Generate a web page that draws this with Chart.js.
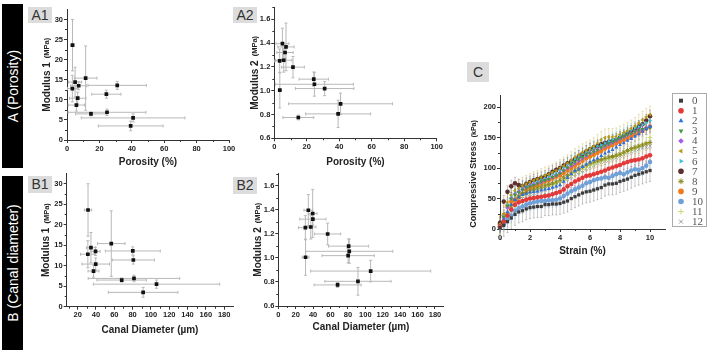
<!DOCTYPE html>
<html>
<head>
<meta charset="utf-8">
<script src="https://cdn.jsdelivr.net/npm/chart.js@4.4.0/dist/chart.umd.min.js"></script>
<style>
  body { margin: 0; width: 708px; height: 355px; background: #fff; position: relative; overflow: hidden; font-family: "Liberation Sans", Arial, sans-serif; }
  .bar { position: absolute; left: 2px; width: 21px; background: #000; }
  .bar span { position: absolute; left: 50%; top: 50%; transform: translate(-50%, -50%) rotate(-90deg); color: #fff; font-size: 14px; white-space: nowrap; }
  .tag { position: absolute; z-index: 2; background: #dcdcdc; color: #333; font-size: 14px; line-height: 16px; text-align: center; }
  canvas { position: absolute; }
</style>
</head>
<body>
<div class="bar" style="top:4px;height:164px"><span>A (Porosity)</span></div>
<div class="bar" style="top:176px;height:174px"><span>B (Canal diameter)</span></div>
<div class="tag" style="left:28px;top:7px;width:24px;height:16px">A1</div>
<div class="tag" style="left:233px;top:7px;width:24px;height:16px">A2</div>
<div class="tag" style="left:28px;top:176px;width:24px;height:17px;line-height:17px">B1</div>
<div class="tag" style="left:233px;top:177px;width:24px;height:17px;line-height:17px">B2</div>
<div class="tag" style="left:467px;top:62px;width:22px;height:20px;line-height:20px">C</div>
<canvas id="a1" width="214" height="172" style="left:24px;top:0px"></canvas>
<canvas id="a2" width="212" height="172" style="left:238px;top:0px"></canvas>
<canvas id="b1" width="214" height="177" style="left:24px;top:168px"></canvas>
<canvas id="b2" width="212" height="177" style="left:238px;top:168px"></canvas>
<canvas id="c" width="246" height="176" style="left:462px;top:86px"></canvas>
<script>
// samples (13 scaffolds)
const porosity    = [3.4, 3.3, 5.0, 7.2, 6.6, 5.8, 11.5, 31.0, 24.3, 14.8, 24.7, 40.8, 39.3];
const porosityErr = [1.0, 3.0, 4.0, 5.0, 5.0, 5.0, 7.0, 18.0, 9.0, 9.5, 24.0, 32.0, 20.0];
const diameter    = [31.3, 31.1, 34.5, 39.5, 39.7, 37.3, 56.7, 80.2, 80.8, 68.1, 81.5, 106.1, 91.5];
const diameterErr = [4, 8, 5, 5, 15, 6, 15, 30, 23, 27, 50, 69, 38];
const modulus1    = [23.6, 12.8, 14.4, 13.5, 10.4, 8.7, 15.4, 13.6, 11.4, 6.5, 6.9, 5.5, 3.5];
const modulus1Err = [6.4, 3.3, 3.7, 1.0, 1.5, 1.5, 8.0, 1.0, 1.0, 0.5, 0.8, 1.0, 1.2];
const modulus2    = [1.005, 1.25, 1.395, 1.368, 1.321, 1.256, 1.198, 1.018, 1.097, 0.775, 1.054, 0.89, 0.805];
const modulus2Err = [0.15, 0.1, 0.13, 0.2, 0.05, 0.1, 0.09, 0.06, 0.06, 0.02, 0.1, 0.09, 0.115];

// panel C: stress-strain curves
const strain = [0,0.25,0.5,0.75,1,1.25,1.5,1.75,2,2.25,2.5,2.75,3,3.25,3.5,3.75,4,4.25,4.5,4.75,5,5.25,5.5,5.75,6,6.25,6.5,6.75,7,7.25,7.5,7.75,8,8.25,8.5,8.75,9,9.25,9.5,9.75,10];
const stress0  = [2,6,12,18,24,28,30,33,35,36,37,37,40,40,41,41,42,44,46,50,53,56,59,61,62,64,66,68,72,74,74,75,78,80,82,85,88,90,92,94,96];
const stress1  = [4,12,22,32,40,44,46,48,50,51,52,53,54,55,57,59,61,65,70,74,78,81,84,87,88,90,92,94,96,99,101,103,105,108,110,112,113,114,116,119,121];
const stress2  = [5,15,28,40,48,52,56,58,60,61,62,64,65,66,68,70,72,78,84,90,95,98,102,106,110,113,116,120,124,127,130,134,138,141,145,148,152,156,160,164,168];
const stress3  = [6,20,38,50,56,60,64,68,70,72,75,78,80,82,85,88,91,96,101,106,110,114,118,121,124,127,130,134,137,140,143,146,149,152,155,157,160,162,164,165,166];
const stress4  = [5,18,35,50,57,61,65,68,71,73,75,77,80,82,85,88,92,96,100,104,108,112,116,120,124,127,130,133,136,139,142,145,148,151,154,157,160,162,164,166,168];
const stress5  = [8,25,44,56,63,67,71,74,77,80,82,85,88,90,93,96,100,104,108,113,118,122,126,129,132,136,141,146,150,151,151,152,155,158,161,165,169,174,179,184,188];
const stress6  = [6,22,40,54,60,64,68,70,73,76,78,80,83,86,89,92,96,101,106,111,115,119,123,127,130,133,136,138,141,144,147,150,153,156,160,163,166,168,171,174,178];
const stress7  = [10,45,61,70,75,72,70,74,77,80,82,84,86,90,94,97,100,104,108,111,115,119,123,127,131,134,136,139,141,143,145,147,150,153,157,160,164,168,172,178,185];
const stress8  = [4,14,26,38,48,54,58,60,63,65,67,69,71,73,75,77,80,84,88,92,96,99,102,105,108,110,112,114,116,118,119,121,123,126,129,132,134,136,138,140,142];
const stress9  = [8,22,38,45,48,52,58,64,68,70,72,75,78,80,83,86,88,92,96,100,104,108,112,116,119,122,125,128,132,135,138,141,143,146,149,152,155,158,161,165,168];
const stress10 = [3,8,15,22,30,34,37,40,42,44,45,46,46,47,47,48,50,54,58,62,65,68,71,75,77,80,82,83,85,84,87,90,92,90,93,96,98,97,100,104,110];
const stress11 = [3,12,24,35,45,50,55,58,60,62,64,66,68,70,72,74,77,80,84,88,92,95,98,101,104,106,109,111,113,115,117,119,121,124,127,129,132,135,138,142,150];
const stress12 = [3,10,20,30,40,46,50,54,57,59,61,63,65,67,69,71,74,78,82,86,90,93,96,99,102,104,107,109,111,113,115,117,120,122,125,127,129,131,133,134,136];
const stressErr = [18, 10, 9, 10, 9, 14, 10, 10, 10, 10, 12, 14, 10];
const groupLabels = ['0','1','2','3','4','5','6','7','8','9','10','11','12'];

const sans = '"Liberation Sans", Arial, sans-serif';

// error bars, drawn under the points
const errorBars = {
  id: 'errorBars',
  beforeDatasetsDraw(chart) {
    const { ctx, scales: { x, y } } = chart;
    ctx.save();
    ctx.lineWidth = 1;
    chart.data.datasets.forEach(ds => {
      ctx.strokeStyle = ds.errColor;
      ds.data.forEach((p, i) => {
        const px = x.getPixelForValue(p.x), py = y.getPixelForValue(p.y);
        const ex = Array.isArray(ds.xErr) ? ds.xErr[i] : ds.xErr;
        const ey = Array.isArray(ds.yErr) ? ds.yErr[i] : ds.yErr;
        const cap = ds.cap || 0;
        ctx.beginPath();
        if (ex) {
          const l = x.getPixelForValue(p.x - ex), r = x.getPixelForValue(p.x + ex);
          ctx.moveTo(l, py); ctx.lineTo(r, py);
          if (cap) { ctx.moveTo(l, py - cap); ctx.lineTo(l, py + cap); ctx.moveTo(r, py - cap); ctx.lineTo(r, py + cap); }
        }
        if (ey) {
          const t = y.getPixelForValue(p.y + ey), b = y.getPixelForValue(p.y - ey);
          ctx.moveTo(px, t); ctx.lineTo(px, b);
          if (cap) { ctx.moveTo(px - cap, t); ctx.lineTo(px + cap, t); ctx.moveTo(px - cap, b); ctx.lineTo(px + cap, b); }
        }
        ctx.stroke();
      });
    });
    ctx.restore();
  }
};

// minor ticks halfway between the major ones, plus a y title with a smaller unit
const axisExtras = {
  id: 'axisExtras',
  afterDraw(chart, args, opts) {
    const { ctx, chartArea: ca, scales: { x, y } } = chart;
    ctx.save();
    ctx.strokeStyle = '#333';
    ctx.lineWidth = 1;
    ctx.beginPath();
    for (let v = opts.minorX0; v < x.max; v += opts.minorX * 2) {
      const px = Math.round(x.getPixelForValue(v)) + 0.5;
      ctx.moveTo(px, ca.bottom); ctx.lineTo(px, ca.bottom + 2);
    }
    for (let v = opts.minorY0; v < y.max; v += opts.minorY * 2) {
      const py = Math.round(y.getPixelForValue(v)) + 0.5;
      ctx.moveTo(ca.left, py); ctx.lineTo(ca.left - 2, py);
    }
    ctx.stroke();

    ctx.translate(ca.left - opts.titleOffset, (ca.top + ca.bottom) / 2 + (opts.titleShift || 0));
    ctx.rotate(-Math.PI / 2);
    ctx.fillStyle = '#222';
    ctx.textBaseline = 'middle';
    ctx.textAlign = 'left';
    const f1 = 'bold ' + opts.titleSize + 'px ' + sans;
    const f2 = 'bold ' + opts.unitSize + 'px ' + sans;
    ctx.font = f1; const w1 = ctx.measureText(opts.title).width;
    ctx.font = f2; const w2 = ctx.measureText(opts.unit).width;
    const start = -(w1 + 4 + w2) / 2;
    ctx.font = f1; ctx.fillText(opts.title, start, 0);
    ctx.font = f2; ctx.fillText(opts.unit, start + w1 + 4, 0);
    ctx.restore();
  }
};

function xAxis(min, max, step, title, height, titlePad) {
  return {
    type: 'linear', min, max,
    afterFit: s => { s.height = height; },
    border: { display: true, color: '#333', width: 1 },
    grid: { drawOnChartArea: false, drawTicks: true, tickLength: 3, tickColor: '#333' },
    ticks: { stepSize: step, includeBounds: false, padding: 1, maxRotation: 0, color: '#222', font: { family: sans, size: 7.5, weight: 'bold' } },
    title: { display: true, text: title, color: '#222', font: { family: sans, size: 10, weight: 'bold' }, padding: { top: 0, bottom: titlePad } }
  };
}

function yAxis(min, max, step, width, fmt) {
  return {
    type: 'linear', min, max,
    afterFit: s => { s.width = width; },
    border: { display: true, color: '#333', width: 1 },
    grid: { drawOnChartArea: false, drawTicks: true, tickLength: 3, tickColor: '#333' },
    ticks: { stepSize: step, includeBounds: false, padding: 1, color: '#222', font: { family: sans, size: 7.5, weight: 'bold' }, callback: fmt || (v => v) }
  };
}

function scatterPanel(id, xs, xErr, ys, yErr, o) {
  new Chart(document.getElementById(id), {
    type: 'scatter',
    data: {
      datasets: [{
        data: xs.map((v, i) => ({ x: v, y: ys[i] })),
        xErr: xErr, yErr: yErr, cap: 1.5, errColor: '#b8b8b8',
        pointStyle: 'rect', pointRadius: 2.6, backgroundColor: '#111', borderColor: '#111', borderWidth: 0
      }]
    },
    options: {
      responsive: false, animation: false,
      layout: { padding: o.pad },
      plugins: { legend: { display: false }, tooltip: { enabled: false }, axisExtras: o.extras },
      scales: { x: o.x, y: o.y }
    },
    plugins: [errorBars, axisExtras]
  });
}

const fmt1 = v => v.toFixed(1);

scatterPanel('a1', porosity, porosityErr, modulus1, modulus1Err, {
  pad: { left: 0, top: 9.4, right: 9, bottom: 0 },
  x: xAxis(0, 100, 20, 'Porosity (%)', 32, 4),
  y: yAxis(0, 32.5, 5, 43),
  extras: { minorX: 10, minorX0: 10, minorY: 2.5, minorY0: 2.5, title: 'Modulus 1', unit: '(MPa)', titleSize: 10, unitSize: 7.5, titleOffset: 20 }
});
scatterPanel('a2', porosity, porosityErr, modulus2, modulus2Err, {
  pad: { left: 0, top: 7.4, right: 13.3, bottom: 0 },
  x: xAxis(0, 100, 20, 'Porosity (%)', 33.7, 3.7),
  y: yAxis(0.6, 1.7, 0.2, 36.3, fmt1),
  extras: { minorX: 10, minorX0: 10, minorY: 0.1, minorY0: 0.7, title: 'Modulus 2', unit: '(MPa)', titleSize: 10, unitSize: 7.5, titleOffset: 19 }
});
scatterPanel('b1', diameter, diameterErr, modulus1, modulus1Err, {
  pad: { left: 0, top: 5.3, right: 4.7, bottom: 0 },
  x: xAxis(8, 190, 20, 'Canal Diameter (µm)', 38.3, 9),
  y: yAxis(0, 32.5, 5, 42.7),
  extras: { minorX: 10, minorX0: 10, minorY: 2.5, minorY0: 2.5, title: 'Modulus 1', unit: '(MPa)', titleSize: 10, unitSize: 7.5, titleOffset: 20 }
});
scatterPanel('b2', diameter, diameterErr, modulus2, modulus2Err, {
  pad: { left: 0, top: 3.7, right: 6.3, bottom: 0 },
  x: xAxis(0, 190, 20, 'Canal Diameter (µm)', 39, 11.3),
  y: yAxis(0.6, 1.7, 0.2, 40.3, fmt1),
  extras: { minorX: 10, minorX0: 10, minorY: 0.1, minorY0: 0.7, title: 'Modulus 2', unit: '(MPa)', titleSize: 10, unitSize: 7.5, titleOffset: 20 }
});

// panel C
const stressSeries = [stress0, stress1, stress2, stress3, stress4, stress5, stress6, stress7, stress8, stress9, stress10, stress11, stress12];
const seriesColors = ['#3c3c3c', '#e23a3a', '#2f6fe0', '#3c9c3c', '#a45ee5', '#b59a12', '#3cc4d6', '#5e2f2f', '#8a8a1e', '#f07a1a', '#6fa0d8', '#c6da74', '#9a9a9a'];
const seriesStyles = ['rect', 'circle', 'triangle', 'triangle', 'rectRot', 'triangle', 'triangle', 'circle', 'star', 'circle', 'circle', 'cross', 'crossRot'];
const seriesRot = [0, 0, 0, 180, 0, -90, 90, 0, 0, 0, 0, 0, 0];

function fade(hex, a) {
  const n = parseInt(hex.slice(1), 16);
  return 'rgba(' + (n >> 16) + ',' + ((n >> 8) & 255) + ',' + (n & 255) + ',' + a + ')';
}

const legendBox = {
  id: 'legendBox',
  afterDraw(chart) {
    const { ctx, chartArea: ca } = chart;
    const left = ca.right + 7, top = ca.top - 2;
    ctx.save();
    ctx.strokeStyle = '#aaa';
    ctx.lineWidth = 1;
    ctx.strokeRect(left + 0.5, top + 0.5, 34, 133);
    ctx.font = '11px "Liberation Serif", "Times New Roman", serif';
    ctx.textBaseline = 'middle';
    ctx.textAlign = 'left';
    chart.data.datasets.forEach((ds, i) => {
      const yy = top + 7.7 + i * 10.08;
      ctx.fillStyle = ds.pointBackgroundColor;
      ctx.strokeStyle = ds.pointBorderColor;
      ctx.lineWidth = ds.pointBorderWidth;
      Chart.helpers.drawPoint(ctx, { pointStyle: ds.pointStyle, rotation: ds.pointRotation, radius: 2.8, borderWidth: ds.pointBorderWidth }, left + 9, yy);
      ctx.fillStyle = '#555';
      ctx.fillText(ds.label, left + 20, yy + 0.5);
    });
    ctx.restore();
  }
};

new Chart(document.getElementById('c'), {
  type: 'scatter',
  data: {
    datasets: stressSeries.map((vals, k) => {
      const stroked = seriesStyles[k] === 'cross' || seriesStyles[k] === 'crossRot' || seriesStyles[k] === 'star';
      return {
        label: groupLabels[k],
        data: strain.map((s, i) => ({ x: s, y: vals[i] })),
        yErr: stressErr[k], cap: 1, errColor: fade(seriesColors[k], 0.28),
        pointStyle: seriesStyles[k], pointRotation: seriesRot[k],
        pointRadius: 2.3,
        pointBackgroundColor: seriesColors[k], pointBorderColor: seriesColors[k],
        pointBorderWidth: stroked ? 1 : 0,
        clip: false
      };
    })
  },
  options: {
    responsive: false, animation: false,
    layout: { padding: { left: 0, top: 9, right: 43, bottom: 0 } },
    plugins: {
      legend: { display: false }, tooltip: { enabled: false },
      axisExtras: { minorX: 1, minorX0: 1, minorY: 25, minorY0: 25, title: 'Compressive Stress', unit: '(kPa)', titleSize: 9, unitSize: 7, titleOffset: 26, titleShift: 12 }
    },
    scales: {
      x: xAxis(0, 11, 2, 'Strain (%)', 33, 5),
      y: yAxis(0, 220, 50, 38)
    }
  },
  plugins: [errorBars, axisExtras, legendBox]
});
</script>
</body>
</html>
